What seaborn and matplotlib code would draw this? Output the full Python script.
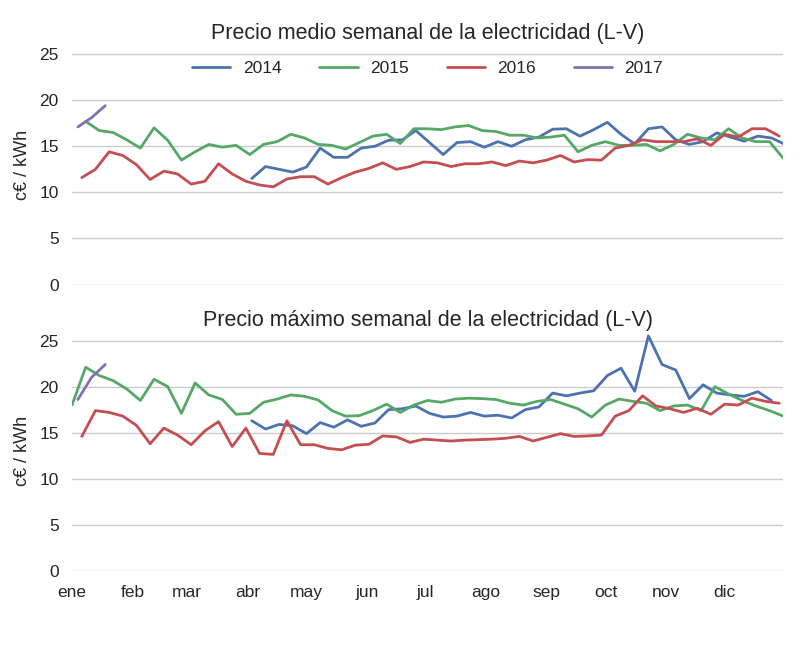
import numpy as np
import pandas as pd
import matplotlib
matplotlib.use('Agg')
import matplotlib.pyplot as plt
import seaborn as sns

# años y colores (paleta deep antigua)
anios = ['2014', '2015', '2016', '2017']
colores = ['#4C72B0', '#55A868', '#C44E52', '#8172B2']

meses = ['ene', 'feb', 'mar', 'abr', 'may', 'jun', 'jul', 'ago', 'sep', 'oct', 'nov', 'dic']
dia_mes = [0, 31, 59, 90, 120, 151, 181, 212, 243, 273, 304, 334]

# día del año de la primera semana de cada serie
inicio = {'2014': 92, '2015': 0, '2016': 5, '2017': 3}

# precio medio semanal (c€/kWh)
medio_2014 = [11.5, 12.8, 12.5, 12.2, 12.75, 14.8, 13.8, 13.8, 14.8, 15.0, 15.65, 15.7, 16.7,
              15.4, 14.1, 15.4, 15.5, 14.9, 15.5, 15.0, 15.7, 16.0, 16.85, 16.9, 16.1, 16.8,
              17.6, 16.3, 15.25, 16.9, 17.1, 15.7, 15.2, 15.5, 16.45, 16.0, 15.55, 16.1, 15.9, 15.2]
medio_2015 = [np.nan, 17.7, 16.7, 16.5, 15.7, 14.8, 17.0, 15.65, 13.5, 14.4, 15.2, 14.9, 15.1,
              14.1, 15.2, 15.5, 16.3, 15.9, 15.2, 15.1, 14.7, 15.4, 16.1, 16.3, 15.3, 16.9, 16.9,
              16.8, 17.1, 17.25, 16.7, 16.6, 16.2, 16.2, 15.9, 16.0, 16.2, 14.4, 15.1, 15.5, 15.1,
              15.1, 15.2, 14.5, 15.2, 16.3, 15.9, 15.7, 16.9, 15.9, 15.5, 15.5, 13.7]
medio_2016 = [11.6, 12.5, 14.4, 14.0, 13.0, 11.4, 12.3, 12.0, 10.9, 11.2, 13.1, 12.0, 11.2,
              10.8, 10.6, 11.45, 11.7, 11.7, 10.9, 11.6, 12.2, 12.6, 13.2, 12.5, 12.8, 13.3,
              13.2, 12.8, 13.1, 13.1, 13.3, 12.9, 13.4, 13.2, 13.5, 14.0, 13.3, 13.55, 13.5,
              14.8, 15.1, 15.7, 15.5, 15.5, 15.5, 15.8, 15.1, 16.3, 16.0, 16.9, 16.9, 16.1]
medio_2017 = [17.1, 18.1, 19.4]

# precio máximo semanal (c€/kWh)
maximo_2014 = [16.3, 15.4, 15.9, 15.75, 14.9, 16.1, 15.6, 16.4, 15.7, 16.05, 17.5, 17.6, 17.9,
               17.1, 16.7, 16.8, 17.2, 16.8, 16.9, 16.6, 17.5, 17.8, 19.3, 19.0, 19.3, 19.55,
               21.2, 22.0, 19.5, 25.5, 22.4, 21.8, 18.7, 20.2, 19.3, 19.1, 18.95, 19.45, 18.5]
maximo_2015 = [18.0, 22.1, 21.2, 20.65, 19.75, 18.5, 20.8, 20.0, 17.1, 20.4, 19.1, 18.6, 17.0,
               17.1, 18.3, 18.65, 19.1, 18.95, 18.55, 17.4, 16.8, 16.85, 17.4, 18.1, 17.2, 18.0,
               18.5, 18.3, 18.65, 18.75, 18.7, 18.6, 18.2, 18.0, 18.4, 18.6, 18.1, 17.6, 16.7,
               18.0, 18.65, 18.4, 18.2, 17.4, 17.9, 18.0, 17.4, 20.0, 19.2, 18.5, 17.9, 17.4, 16.8]
maximo_2016 = [14.6, 17.4, 17.2, 16.8, 15.8, 13.8, 15.5, 14.75, 13.7, 15.2, 16.2, 13.5, 15.5,
               12.75, 12.65, 16.3, 13.7, 13.7, 13.3, 13.15, 13.65, 13.75, 14.65, 14.55, 13.95,
               14.3, 14.2, 14.1, 14.2, 14.25, 14.3, 14.4, 14.6, 14.1, 14.5, 14.9, 14.6, 14.65,
               14.75, 16.8, 17.4, 19.0, 17.9, 17.6, 17.2, 17.65, 17.0, 18.1, 18.0, 18.75, 18.4, 18.2]
maximo_2017 = [18.6, 21.0, 22.4]


def to_long(series):
    frames = []
    for anio, vals in series.items():
        vals = np.array(vals, dtype=float)
        dias = inicio[anio] + 7 * np.arange(len(vals))
        frames.append(pd.DataFrame({'dia': dias, 'precio': vals, 'anio': anio}))
    return pd.concat(frames).dropna()


df_medio = to_long({'2014': medio_2014, '2015': medio_2015, '2016': medio_2016, '2017': medio_2017})
df_maximo = to_long({'2014': maximo_2014, '2015': maximo_2015, '2016': maximo_2016, '2017': maximo_2017})

sns.set_theme(style='whitegrid')
plt.rcParams['font.family'] = ['Liberation Sans', 'DejaVu Sans']

fig, axes = plt.subplots(2, 1, figsize=(8, 6.5), dpi=100, sharex=True)
fig.subplots_adjust(left=0.09, right=0.979, top=0.931, bottom=0.1215, hspace=0.195)

titulos = ['Precio medio semanal de la electricidad (L-V)',
           'Precio máximo semanal de la electricidad (L-V)']

for i, (ax, df) in enumerate(zip(axes, [df_medio, df_maximo])):
    sns.lineplot(data=df, x='dia', y='precio', hue='anio', hue_order=anios,
                 palette=colores, estimator=None, lw=2, ax=ax, legend=(i == 0))
    ax.set_title(titulos[i], fontsize=15.5, pad=4)
    ax.set_xlim(0, 364)
    ax.set_ylim(0, 26)
    ax.set_yticks(range(0, 26, 5))
    ax.set_xticks(dia_mes)
    ax.set_xticklabels(meses)
    ax.xaxis.grid(False)
    ax.set_xlabel('')
    ax.set_ylabel('c€ / kWh', fontsize=13, labelpad=6)
    ax.tick_params(axis='both', labelsize=12.5, length=0)
    ax.tick_params(axis='y', pad=9.5)
    ax.tick_params(axis='x', pad=10)
    sns.despine(ax=ax, left=True, bottom=True)

sns.move_legend(axes[0], 'upper center', ncol=4, frameon=False, title=None,
                fontsize=12.5, handlelength=2.2, handletextpad=0.7, columnspacing=2.2)

fig.savefig('out.png', dpi=100)
